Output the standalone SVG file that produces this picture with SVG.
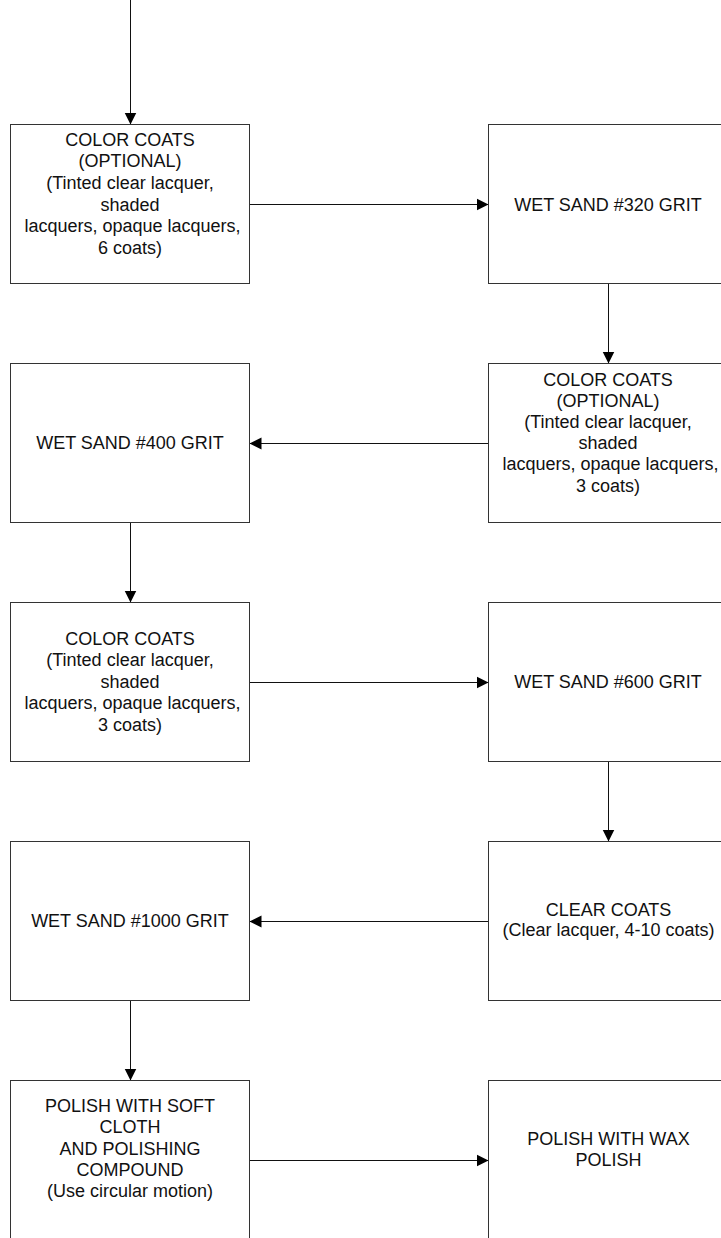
<svg xmlns="http://www.w3.org/2000/svg" width="721" height="1238" viewBox="0 0 721 1238">
<style>
.box{fill:#ffffff;stroke:#333333;stroke-width:1}
.lbl{font-family:"Liberation Sans",Arial,sans-serif;font-size:18px;fill:#111111;text-anchor:middle}
.conn{stroke:#111111;stroke-width:1;fill:none;marker-end:url(#arr)}
</style>
<defs>
<marker id="arr" markerUnits="userSpaceOnUse" markerWidth="13" markerHeight="13" refX="12" refY="6.5" orient="auto">
<path d="M0,0.5 L12,6.5 L0,12.5 z" fill="#000000"/>
</marker>
</defs>
<rect width="721" height="1238" fill="#ffffff"/>
<g id="connectors">
<line class="conn" x1="130.5" y1="0" x2="130.5" y2="124.5"/>
<line class="conn" x1="249.5" y1="204.5" x2="488.5" y2="204.5"/>
<line class="conn" x1="608.5" y1="283.5" x2="608.5" y2="363.5"/>
<line class="conn" x1="488.5" y1="443.5" x2="249.5" y2="443.5"/>
<line class="conn" x1="130.5" y1="522.5" x2="130.5" y2="602.5"/>
<line class="conn" x1="249.5" y1="682.5" x2="488.5" y2="682.5"/>
<line class="conn" x1="608.5" y1="761.5" x2="608.5" y2="841.5"/>
<line class="conn" x1="488.5" y1="921.5" x2="249.5" y2="921.5"/>
<line class="conn" x1="130.5" y1="1000.5" x2="130.5" y2="1080.5"/>
<line class="conn" x1="249.5" y1="1160.5" x2="488.5" y2="1160.5"/>
</g>
<g id="node1">
<rect class="box" x="10.5" y="124.5" width="239" height="159"/>
<text class="lbl" x="130" y="145.8">COLOR COATS</text>
<text class="lbl" x="130" y="167.4">(OPTIONAL)</text>
<text class="lbl" x="130" y="189">(Tinted clear lacquer,</text>
<text class="lbl" x="130" y="210.6">shaded</text>
<text class="lbl" x="132.5" y="232.2">lacquers, opaque lacquers,</text>
<text class="lbl" x="130" y="253.8">6 coats)</text>
</g>
<g id="node2">
<rect class="box" x="488.5" y="124.5" width="240" height="159"/>
<text class="lbl" x="608" y="210.5">WET SAND #320 GRIT</text>
</g>
<g id="node3">
<rect class="box" x="488.5" y="363.5" width="240" height="159"/>
<text class="lbl" x="608" y="385.5">COLOR COATS</text>
<text class="lbl" x="608" y="406.7">(OPTIONAL)</text>
<text class="lbl" x="608" y="427.9">(Tinted clear lacquer,</text>
<text class="lbl" x="608" y="449.1">shaded</text>
<text class="lbl" x="610.5" y="470.3">lacquers, opaque lacquers,</text>
<text class="lbl" x="608" y="491.5">3 coats)</text>
</g>
<g id="node4">
<rect class="box" x="10.5" y="363.5" width="239" height="159"/>
<text class="lbl" x="130" y="449">WET SAND #400 GRIT</text>
</g>
<g id="node5">
<rect class="box" x="10.5" y="602.5" width="239" height="159"/>
<text class="lbl" x="130" y="644.5">COLOR COATS</text>
<text class="lbl" x="130" y="666">(Tinted clear lacquer,</text>
<text class="lbl" x="130" y="687.5">shaded</text>
<text class="lbl" x="132.5" y="708.9">lacquers, opaque lacquers,</text>
<text class="lbl" x="130" y="730.5">3 coats)</text>
</g>
<g id="node6">
<rect class="box" x="488.5" y="602.5" width="240" height="159"/>
<text class="lbl" x="608" y="688">WET SAND #600 GRIT</text>
</g>
<g id="node7">
<rect class="box" x="488.5" y="841.5" width="240" height="159"/>
<text class="lbl" x="608.5" y="916.2">CLEAR COATS</text>
<text class="lbl" x="608.5" y="936.4">(Clear lacquer, 4-10 coats)</text>
</g>
<g id="node8">
<rect class="box" x="10.5" y="841.5" width="239" height="159"/>
<text class="lbl" x="130" y="927">WET SAND #1000 GRIT</text>
</g>
<g id="node9">
<rect class="box" x="10.5" y="1080.5" width="239" height="180"/>
<text class="lbl" x="130" y="1112.2">POLISH WITH SOFT</text>
<text class="lbl" x="130" y="1133.4">CLOTH</text>
<text class="lbl" x="130" y="1154.6">AND POLISHING</text>
<text class="lbl" x="130" y="1175.8">COMPOUND</text>
<text class="lbl" x="130" y="1197">(Use circular motion)</text>
</g>
<g id="node10">
<rect class="box" x="488.5" y="1080.5" width="240" height="180"/>
<text class="lbl" x="608.5" y="1144.8">POLISH WITH WAX</text>
<text class="lbl" x="608.5" y="1165.5">POLISH</text>
</g>
</svg>
